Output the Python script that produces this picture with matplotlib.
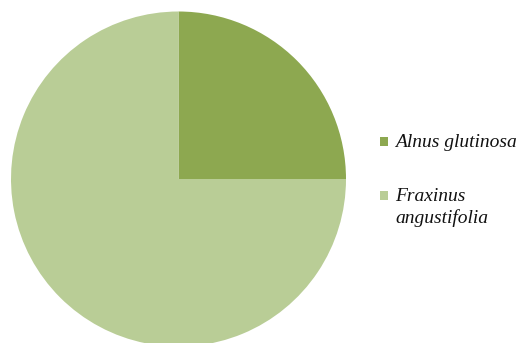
import matplotlib
matplotlib.use("Agg")
import matplotlib.pyplot as plt
from matplotlib.patches import Rectangle

labels = ["Alnus glutinosa", "Fraxinus\nangustifolia"]
values = [25, 75]
colors = ["#8DA850", "#B9CD96"]

W, H = 519, 343
fig = plt.figure(figsize=(W / 100, H / 100), dpi=100)

cx, cy, r = 178.5, 179.0, 167.5
ax = fig.add_axes([(cx - r) / W, (H - cy - r) / H, 2 * r / W, 2 * r / H])
ax.pie(values, colors=colors, startangle=90, counterclock=False, radius=1,
       wedgeprops=dict(linewidth=0))
ax.set_xlim(-1, 1)
ax.set_ylim(-1, 1)
ax.set_aspect("equal")
ax.axis("off")

baselines = [147, 201]
line_gap = 22
for lab, col, yb in zip(labels, colors, baselines):
    sq_top = yb - 10
    fig.add_artist(Rectangle((380 / W, (H - sq_top - 8.5) / H), 8 / W, 8.5 / H,
                             transform=fig.transFigure, facecolor=col,
                             edgecolor="none"))
    for k, line in enumerate(lab.split("\n")):
        fig.text(395 / W, (H - (yb + k * line_gap)) / H, line,
                 family="Liberation Serif", style="italic", fontsize=14,
                 va="baseline", ha="left", color="#111111")

fig.savefig("out.png", dpi=100)
